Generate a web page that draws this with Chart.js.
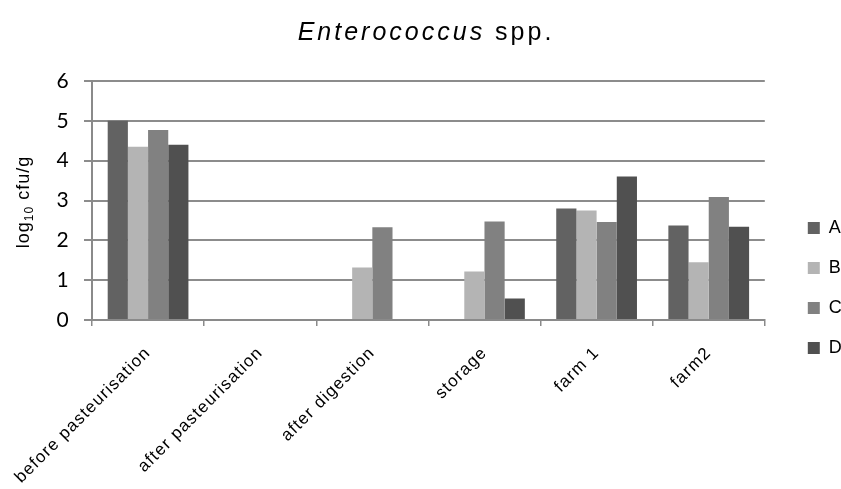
<!DOCTYPE html>
<html>
<head>
<meta charset="utf-8">
<script src="https://cdn.jsdelivr.net/npm/chart.js@4.4.1/dist/chart.umd.min.js"></script>
<style>
  body { margin: 0; background: #fff; }
  #wrap { width: 841px; height: 489px; }
</style>
</head>
<body>
<div id="wrap"><canvas id="myChart"></canvas></div>
<script>
const categories = ['before pasteurisation', 'after pasteurisation', 'after digestion', 'storage', 'farm 1', 'farm2']
const seriesA = [5.0, 0, 0, 0, 2.8, 2.37]
const seriesB = [4.35, 0, 1.32, 1.22, 2.75, 1.45]
const seriesC = [4.77, 0, 2.33, 2.47, 2.46, 3.09]
const seriesD = [4.4, 0, 0, 0.54, 3.6, 2.34]
const yTicks = [0, 1, 2, 3, 4, 5, 6]

const canvas = document.getElementById('myChart')
const sans = '"Liberation Sans", Arial, sans-serif'

// wider letter spacing like the original, plus legend moved to where it sits in the picture
const tweaks = {
    id: 'tweaks',
    beforeLayout(chart){
        chart.ctx.letterSpacing = '1.2px'
    },
    afterLayout(chart){
        const lg = chart.legend
        lg.left += 21
        lg.right += 21
        lg.top += 3
        lg.bottom += 3
    },
    beforeDraw(chart){
        chart.ctx.letterSpacing = '1.2px'
    }
}

// title with italic genus name and the y title with a real subscript
const textPlugin = {
    id: 'texts',
    afterDraw(chart){
        const ctx = chart.ctx
        ctx.save()
        ctx.fillStyle = '#000'
        ctx.textBaseline = 'alphabetic'
        ctx.letterSpacing = '3px'
        const italic = 'Enterococcus'
        const rest = ' spp.'
        ctx.font = 'italic 25px ' + sans
        const w1 = ctx.measureText(italic).width
        ctx.font = '25px ' + sans
        const w2 = ctx.measureText(rest).width
        const x = 426 - (w1 + w2) / 2
        ctx.font = 'italic 25px ' + sans
        ctx.fillText(italic, x, 40)
        ctx.font = '25px ' + sans
        ctx.fillText(rest, x + w1, 40)

        // y axis title
        ctx.letterSpacing = '1px'
        ctx.translate(29, 202)
        ctx.rotate(-Math.PI / 2)
        const parts = [['log', 18, 0], ['10', 12, 4], [' cfu/g', 18, 0]]
        let total = 0
        parts.forEach(p => { ctx.font = p[1] + 'px ' + sans; total += ctx.measureText(p[0]).width })
        let cx = -total / 2
        parts.forEach(p => {
            ctx.font = p[1] + 'px ' + sans
            ctx.fillText(p[0], cx, p[2])
            cx += ctx.measureText(p[0]).width
        })
        ctx.restore()
    }
}

const config = {
    type: 'bar',
    data: {
        labels: categories,
        datasets: [
            {label: 'A', data: seriesA, backgroundColor: '#626262'},
            {label: 'B', data: seriesB, backgroundColor: '#b4b4b4'},
            {label: 'C', data: seriesC, backgroundColor: '#818181'},
            {label: 'D', data: seriesD, backgroundColor: '#505050'}
        ]
    },
    options: {
        responsive: true,
        maintainAspectRatio: false,
        animation: false,
        categoryPercentage: 0.72,
        barPercentage: 1.0,
        layout: {
            padding: {top: 81, right: 9, left: 0, bottom: 0}
        },
        plugins: {
            legend: {
                position: 'right',
                labels: {
                    boxWidth: 12,
                    boxHeight: 12,
                    padding: 22,
                    color: '#000',
                    font: {size: 18, family: sans}
                }
            },
            tooltip: {enabled: false}
        },
        scales: {
            x: {
                afterFit(axis){
                    axis.height = 169
                    axis.paddingLeft = 0
                    axis.paddingRight = 0
                },
                grid: {drawOnChartArea: false, offset: true, tickLength: 6, color: '#8a8a8a', lineWidth: 1.5},
                border: {color: '#8a8a8a', width: 2},
                ticks: {
                    color: '#000',
                    minRotation: 45,
                    maxRotation: 45,
                    padding: 17,
                    font: {size: 17, family: sans}
                }
            },
            y: {
                min: 0,
                max: 6,
                afterFit(axis){ axis.width = 92 },
                afterBuildTicks(axis){
                    axis.ticks = yTicks.map(v => ({value: v}))
                },
                grid: {color: '#8c8c8c', lineWidth: 2, tickLength: 8},
                border: {color: '#8a8a8a', width: 2},
                ticks: {
                    color: '#000',
                    padding: 14,
                    font: {size: 21, family: 'Lato, "Open Sans", sans-serif'}
                }
            }
        }
    },
    plugins: [tweaks, textPlugin]
}

new Chart(canvas, config)
</script>
</body>
</html>
